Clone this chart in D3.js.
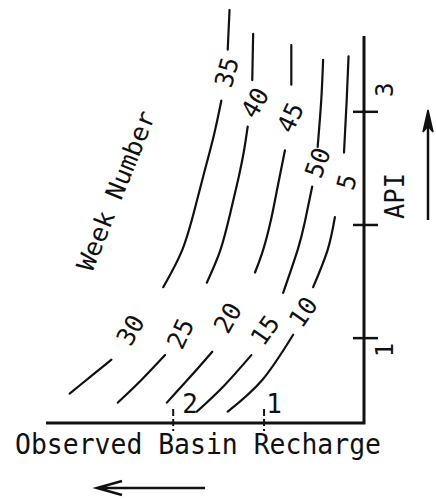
<!DOCTYPE html>
<html>
<head>
<meta charset="utf-8">
<script src="https://cdn.jsdelivr.net/npm/d3@7/dist/d3.min.js"></script>
<style>
body { margin: 0; background: #fff; }
text { font-family: "DejaVu Sans Mono", monospace; fill: #111; }
</style>
</head>
<body>
<div id="grafico"></div>
<script>
var width = 436;
var height = 500;

// ticks: recharge grows to the left, API grows upward
var recharge_ticks = ["1", "2"];
var api_ticks = ["1", "2", "3"];
var api_tick_labels = ["1", "", "3"];

// week number of each curve (label near the bottom, label near the top)
var weeks_low = ["30", "25", "20", "15", "10"];
var weeks_high = ["35", "40", "45", "50", "5"];

// curve pieces as [recharge, API]; gaps are where the labels sit
var curva_30_35 = [
	[[3.14, 0.51], [2.91, 0.66], [2.68, 0.81]],
	[[2.11, 1.45], [1.90, 1.78], [1.76, 2.15], [1.65, 2.49], [1.55, 2.80], [1.47, 3.10]],
	[[1.40, 3.55], [1.38, 3.90]]
];
var curva_25_40 = [
	[[2.61, 0.43], [2.35, 0.63], [2.09, 0.85]],
	[[1.63, 1.49], [1.48, 1.78], [1.37, 2.11], [1.28, 2.42], [1.22, 2.66], [1.18, 2.87]],
	[[1.13, 3.28], [1.12, 3.69]]
];
var curva_20_45 = [
	[[2.07, 0.43], [1.81, 0.66], [1.57, 0.88]],
	[[1.10, 1.58], [1.01, 1.78], [0.92, 2.06], [0.85, 2.34], [0.77, 2.66]],
	[[0.70, 3.24], [0.70, 3.59]]
];
var curva_15_50 = [
	[[1.74, 0.35], [1.44, 0.58], [1.14, 0.85]],
	[[0.79, 1.40], [0.63, 1.78], [0.55, 2.03], [0.47, 2.34]],
	[[0.41, 2.69], [0.37, 3.11], [0.35, 3.46]]
];
var curva_10_5 = [
	[[1.40, 0.35], [1.02, 0.63], [0.68, 1.03]],
	[[0.46, 1.45], [0.30, 1.78], [0.22, 2.07]],
	[[0.12, 2.64], [0.09, 3.11], [0.07, 3.49]]
];
var curvas = [curva_30_35, curva_25_40, curva_20_45, curva_15_50, curva_10_5];

// where the week labels sit, [recharge, API]
var pos_low = [[2.47, 1.07], [1.92, 1.04], [1.40, 1.18], [0.99, 1.07], [0.57, 1.23]];
var pos_high = [[1.41, 3.35], [1.10, 3.08], [0.71, 2.95], [0.41, 2.55], [0.09, 2.38]];

var giro_low = [-60, -65, -60, -55, -55];
var giro_high = [-75, -60, -65, -70, -75];

var x = d3.scaleLinear().domain([-0.1, 3.4]).range([364, 46]);
var y = d3.scaleLinear().domain([0.25, 3.67]).range([423, 36]);

var canvas = d3.select("#grafico")
				.append("svg")
				.attr("width", width)
				.attr("height", height);

var linea = d3.line()
				.x(function(d) { return x(d[0]); })
				.y(function(d) { return y(d[1]); })
				.curve(d3.curveNatural);

var grupo_curvas = canvas.append("g");
var grupo_ejes = canvas.append("g");
var grupo_textos = canvas.append("g");

// Curvas de semana

for (i = 0; i < curvas.length; i++)
{
	for (j = 0; j < curvas[i].length; j++)
	{
		grupo_curvas.append("path")
					.attr("d", linea(curvas[i][j]))
					.attr("fill", "none")
					.attr("stroke", "#111")
					.attr("stroke-width", 2.2)
					.attr("stroke-linecap", "round");
	}

	grupo_textos.append("text")
				.attr("transform", "translate(" + x(pos_low[i][0]) + "," + y(pos_low[i][1]) + ") rotate(" + giro_low[i] + ")")
				.attr("text-anchor", "middle")
				.attr("dy", "0.35em")
				.attr("font-size", 25)
				.text(weeks_low[i]);

	grupo_textos.append("text")
				.attr("transform", "translate(" + x(pos_high[i][0]) + "," + y(pos_high[i][1]) + ") rotate(" + giro_high[i] + ")")
				.attr("text-anchor", "middle")
				.attr("dy", "0.35em")
				.attr("font-size", 25)
				.text(weeks_high[i]);
}

// Ejes

grupo_ejes.append("path")
			.attr("d", "M" + x(3.4) + "," + y(0.25) + "H" + x(-0.1) + "V" + y(3.67))
			.attr("fill", "none")
			.attr("stroke", "#111")
			.attr("stroke-width", 3);

var recharge_label_dx = [10, 17];
for (i = 0; i < recharge_ticks.length; i++)
{
	var xt = x(+recharge_ticks[i]);
	grupo_ejes.append("line")
				.attr("x1", xt).attr("x2", xt)
				.attr("y1", y(0.25) - 14).attr("y2", y(0.25) + 8)
				.attr("stroke", "#111")
				.attr("stroke-width", 2)
				.attr("stroke-dasharray", "7,3");
	grupo_textos.append("text")
				.attr("x", xt + recharge_label_dx[i])
				.attr("y", y(0.25) - 10)
				.attr("text-anchor", "middle")
				.attr("font-size", 26)
				.text(recharge_ticks[i]);
}

var api_label_dy = [12, 0, -22];
for (i = 0; i < api_ticks.length; i++)
{
	var yt = y(+api_ticks[i]);
	grupo_ejes.append("line")
				.attr("x1", x(-0.1) - 11).attr("x2", x(-0.1) + 14)
				.attr("y1", yt).attr("y2", yt)
				.attr("stroke", "#111")
				.attr("stroke-width", 2.5);
	if (api_tick_labels[i] != "")
	{
		grupo_textos.append("text")
					.attr("transform", "translate(" + (x(-0.1) + 21) + "," + (yt + api_label_dy[i]) + ") rotate(-90)")
					.attr("text-anchor", "middle")
					.attr("dy", "0.35em")
					.attr("font-size", 24)
					.text(api_tick_labels[i]);
	}
}

// Titulos

grupo_textos.append("text")
			.attr("x", 15)
			.attr("y", 454)
			.attr("font-size", 28)
			.attr("textLength", 366)
			.attr("lengthAdjust", "spacingAndGlyphs")
			.text("Observed Basin Recharge");

grupo_textos.append("text")
			.attr("transform", "translate(404,196) rotate(-90)")
			.attr("text-anchor", "middle")
			.attr("font-size", 27)
			.attr("textLength", 46)
			.attr("lengthAdjust", "spacingAndGlyphs")
			.text("API");

grupo_textos.append("text")
			.attr("transform", "translate(124,194) rotate(-68)")
			.attr("text-anchor", "middle")
			.attr("font-size", 25)
			.attr("textLength", 170)
			.attr("lengthAdjust", "spacingAndGlyphs")
			.text("Week Number");

// Flechas

grupo_ejes.append("path")
			.attr("d", "M205,488H97M122,481L97,488L122,495")
			.attr("fill", "none")
			.attr("stroke", "#111")
			.attr("stroke-width", 2.5);

grupo_ejes.append("path")
			.attr("d", "M428,220V118")
			.attr("stroke", "#111")
			.attr("stroke-width", 2.5);

grupo_ejes.append("path")
			.attr("d", "M428,110L423,132L428,126L433,132Z")
			.attr("fill", "#111")
			.attr("stroke", "#111")
			.attr("stroke-width", 1.5);
</script>
</body>
</html>
